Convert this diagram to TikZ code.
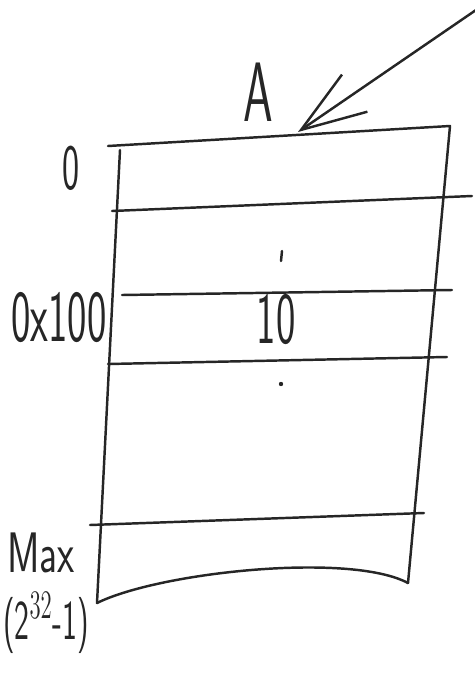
\documentclass[tikz,border=0pt]{standalone}
\usepackage{graphicx}
\usetikzlibrary{arrows.meta}

% hand-lettered look: narrow and tall
\newcommand{\hw}[2][1.6]{\scalebox{0.9}[#1]{#2}}

\begin{document}
\begin{tikzpicture}[x=0.02cm, y=-0.02cm,
  pen/.style={draw=black!85, line width=1.4pt, line cap=round, line join=round},
  lbl/.style={font=\sffamily\fontsize{26}{30}\selectfont, inner sep=0pt, text=black!85},
  ptr/.style={pen, -{Straight Barb[length=13mm, width=9mm, line width=1.4pt]}}
]
\useasboundingbox (0,0) rectangle (474,687);

%% --- memory block corners ---
\coordinate (TL) at (108,146);
\coordinate (TR) at (450,126);
\coordinate (LT) at (120,150);
\coordinate (BL) at (97,603);
\coordinate (BR) at (408,583);

%% --- outline ---
\draw[pen] (TL) -- (TR) -- (BR);
\draw[pen] (LT) -- (BL);
\draw[pen] (BL) .. controls (160,572) and (350,552) .. (BR);

%% --- row lines ---
\draw[pen] (112,211) -- (472,196);
\draw[pen] (122,295) -- (452,290);
\draw[pen] (108,364) -- (447,357);
\draw[pen] (90,525) -- (424,513);

%% --- small marks in the cells ---
\draw[pen] (282,251) -- (281,261);
\fill[black!85] (281,384) circle (2.2);

%% --- labels ---
\node[lbl, font=\sffamily\fontsize{30}{34}\selectfont] (lblA)    at (258,92)  {\hw{A}};
\node[lbl, font=\sffamily\fontsize{23}{26}\selectfont] (lblZero) at (71,168)  {\hw{0}};
\node[lbl] (lblHex) at (59,318)  {\hw{0x100}};
\node[lbl] (lblVal) at (276,320) {\hw{10}};
\node[lbl, font=\sffamily\fontsize{25}{28}\selectfont] (lblMax) at (41,553) {\hw[1.3]{Max}};
\node[lbl, font=\sffamily\fontsize{20}{24}\selectfont] (lblPow) at (46,623) {\hw{(2$^{32}$-1)}};

%% --- pointer into A ---
\coordinate (ptrTail) at (476,10);
\coordinate (ptrTip)  at (298,132);
\draw[ptr] (ptrTail) -- (ptrTip);

\end{tikzpicture}
\end{document}
